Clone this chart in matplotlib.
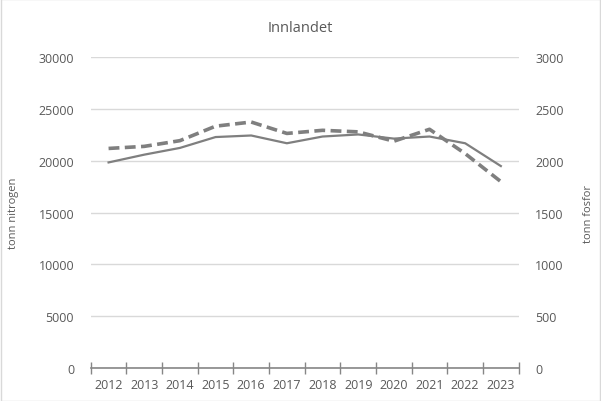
import numpy as np
import matplotlib.pyplot as plt
from matplotlib.ticker import FixedLocator

years = ['2012', '2013', '2014', '2015', '2016', '2017',
         '2018', '2019', '2020', '2021', '2022', '2023']
nitrogen = [19850, 20600, 21250, 22300, 22450, 21700,
            22350, 22550, 22150, 22350, 21700, 19500]
fosfor = [2120, 2140, 2195, 2335, 2375, 2265,
          2295, 2280, 2190, 2305, 2070, 1800]

txt = '#595959'
plt.rcParams['font.family'] = ['Open Sans', 'DejaVu Sans']

fig = plt.figure(figsize=(6.01, 4.02), dpi=100)
ax = fig.add_axes([0.151, 0.082, 0.712, 0.773])
ax2 = ax.twinx()

x = np.arange(len(years))
ax.plot(x, nitrogen, color='#7f7f7f', lw=1.6, zorder=3)
ax2.plot(x, fosfor, color='#7f7f7f', lw=2.6, dashes=(3, 1.5), zorder=3)

ax.set_xlim(-0.5, len(years) - 0.5)
ax.set_ylim(0, 30000)
ax2.set_ylim(0, 3000)
ax.set_yticks(np.arange(0, 30001, 5000))
ax2.set_yticks(np.arange(0, 3001, 500))

# kategoriakse: streker mellom årene, etiketter midt i
ax.xaxis.set_major_locator(FixedLocator(np.arange(-0.5, len(years), 1)))
ax.set_xticklabels([])
ax.set_xticks(x, minor=True)
ax.set_xticklabels(years, minor=True)
ax.tick_params(axis='x', which='major', direction='inout', length=8,
               color='#868686', width=1)
ax.tick_params(axis='x', which='minor', length=0, pad=7,
               labelsize=9, labelcolor=txt)

ax.grid(axis='y', color='#d9d9d9', lw=1)
ax.set_axisbelow(True)
for a in (ax, ax2):
    for s in a.spines.values():
        s.set_visible(False)
ax.spines['bottom'].set_visible(True)
ax.spines['bottom'].set_color('#868686')
ax.spines['bottom'].set_linewidth(1.2)
ax.spines['bottom'].set_zorder(4)

ax.tick_params(axis='y', length=0, pad=12, labelsize=9, labelcolor=txt)
ax2.tick_params(axis='y', length=0, pad=12, labelsize=9, labelcolor=txt)

ax.set_ylabel('tonn nitrogen', fontsize=8, color=txt, labelpad=14)
ax2.set_ylabel('tonn fosfor', fontsize=8, color=txt, labelpad=14)
fig.text(0.5, 0.93, 'Innlandet', ha='center', va='center',
         fontsize=10.5, color=txt)

# ramme rundt diagramområdet
fig.patches.append(plt.Rectangle((0.001, 0.001), 0.998, 0.998,
                                 transform=fig.transFigure, fill=False,
                                 edgecolor='#d9d9d9', lw=1))

fig.savefig('out.png', dpi=100)
